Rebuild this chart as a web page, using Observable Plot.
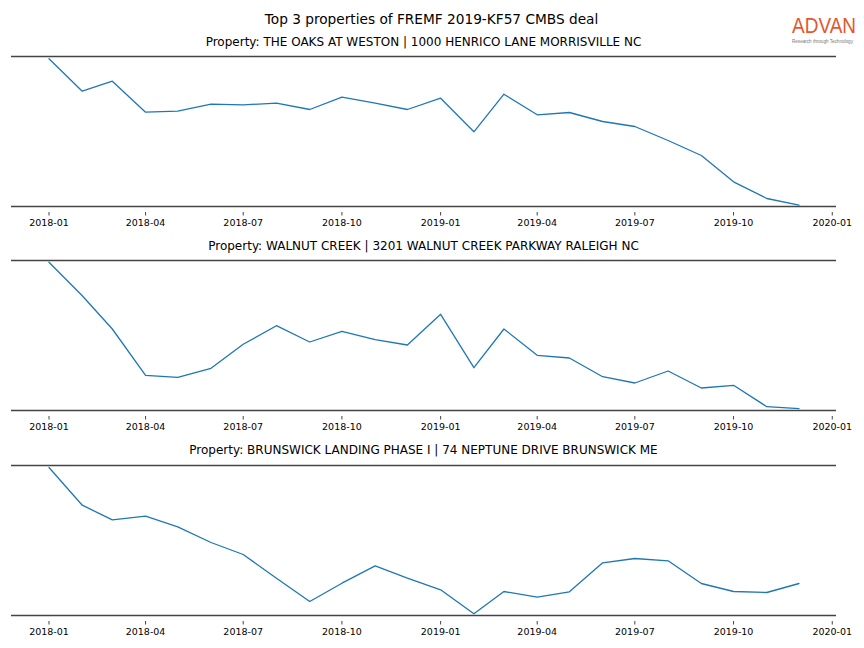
<!DOCTYPE html>
<html><head><meta charset="utf-8">
<script src="https://cdn.jsdelivr.net/npm/d3@7"></script>
<script src="https://cdn.jsdelivr.net/npm/@observablehq/plot@0.6"></script>
<style>
body{margin:0;background:#fff;font-family:"DejaVu Sans",sans-serif;}
#root{position:relative;width:864px;height:648px;overflow:hidden;background:#fff;}
.t{position:absolute;white-space:nowrap;transform:translate(-50%,-50%);color:#000;line-height:1;}
.p{position:absolute;left:0;}
#logo{position:absolute;left:792px;top:18px;font-family:"Liberation Sans",Arial,sans-serif;font-size:19px;line-height:14px;color:#e4572e;white-space:nowrap;transform:scaleY(1.18);transform-origin:top left;}
#tag{position:absolute;left:792px;top:39px;font-family:"Liberation Sans",Arial,sans-serif;font-size:4.6px;line-height:5px;color:#777;white-space:nowrap;}
</style></head><body><div id="root"></div>
<script>
const mainTitle = "Top 3 properties of FREMF 2019-KF57 CMBS deal";
const months = ["2018-01","2018-02","2018-03","2018-04","2018-05","2018-06","2018-07","2018-08","2018-09","2018-10","2018-11","2018-12",
                "2019-01","2019-02","2019-03","2019-04","2019-05","2019-06","2019-07","2019-08","2019-09","2019-10","2019-11","2019-12"];
const oaksWeston = [147.7,115.3,125.3,94.3,95.3,102.3,101.7,103.3,97,109.3,103.3,97,108.3,74.7,112.3,91.7,94,85,80,66,51,24.7,8,1.3];
const walnutCreek = [148.2,114.8,81.5,35.2,33.2,42.2,66.2,84.8,68.5,79.2,70.8,65.5,96.2,42.8,81.5,55.2,52.5,33.8,27.5,39.5,22.5,25.2,3.8,1.8];
const brunswickLanding = [148,110.3,95.7,99.3,88.7,73,61,37.3,14,32.3,49.7,37.3,25.7,1.7,24,18.3,23.7,52.7,57,54.7,32,24,23,32];
const panelTitles = [
  "Property: THE OAKS AT WESTON | 1000 HENRICO LANE MORRISVILLE NC",
  "Property: WALNUT CREEK | 3201 WALNUT CREEK PARKWAY RALEIGH NC",
  "Property: BRUNSWICK LANDING PHASE I | 74 NEPTUNE DRIVE BRUNSWICK ME"
];
const xTickLabels = ["2018-01","2018-04","2018-07","2018-10","2019-01","2019-04","2019-07","2019-10","2020-01"];
const yDomain = [0, 150];
const logoText = "ADVAN";
const logoTagline = "Research through Technology";

const parse = d3.utcParse("%Y-%m");
const dates = months.map(parse);
const tickDates = xTickLabels.map(parse);
const t0 = +dates[0], t1 = +dates[dates.length-1], pad = (t1 - t0) * 0.05;
const xDomain = [new Date(t0 - pad), new Date(t1 + pad)];

const series = [oaksWeston, walnutCreek, brunswickLanding];
const spineTops = [56, 260, 465];
const titleYs = [42, 246, 450];

const root = document.getElementById("root");

function addText(txt, x, y, size) {
  const d = document.createElement("div");
  d.className = "t";
  d.style.left = x + "px"; d.style.top = y + "px"; d.style.fontSize = size + "px";
  d.textContent = txt;
  root.appendChild(d);
}

addText(mainTitle, 431.5, 19.5, 13.7);

series.forEach((vals, i) => {
  const data = vals.map((v, j) => ({date: dates[j], value: v}));
  const mt = 2, inset = 6, mb = 26;
  const chart = Plot.plot({
    width: 864,
    height: mt + 150 + inset + mb,
    marginLeft: 11, marginRight: 28, marginTop: mt, marginBottom: mb,
    style: {fontFamily: "DejaVu Sans, sans-serif", fontSize: "9.5px", color: "#000", background: "#fff"},
    x: {type: "utc", domain: xDomain},
    y: {domain: yDomain, insetBottom: inset, axis: null},
    marks: [
      Plot.ruleY(yDomain, {stroke: "#444", strokeWidth: 1.6}),
      Plot.line(data, {x: "date", y: "value", stroke: "#1f77b4", strokeWidth: 1.3}),
      Plot.axisX(tickDates, {tickSize: 3.5, tickPadding: 3, tickFormat: d3.utcFormat("%Y-%m"), stroke: "#444", fill: "#000", fontSize: 9.5})
    ]
  });
  const wrap = document.createElement("div");
  wrap.className = "p";
  wrap.style.top = (spineTops[i] - mt) + "px";
  wrap.appendChild(chart);
  root.appendChild(wrap);
  addText(panelTitles[i], 423.5, titleYs[i], 12);
});

// logo
const lg = document.createElement("div"); lg.id = "logo"; lg.textContent = logoText; root.appendChild(lg);
const tg = document.createElement("div"); tg.id = "tag"; tg.textContent = logoTagline; root.appendChild(tg);
</script></body></html>
